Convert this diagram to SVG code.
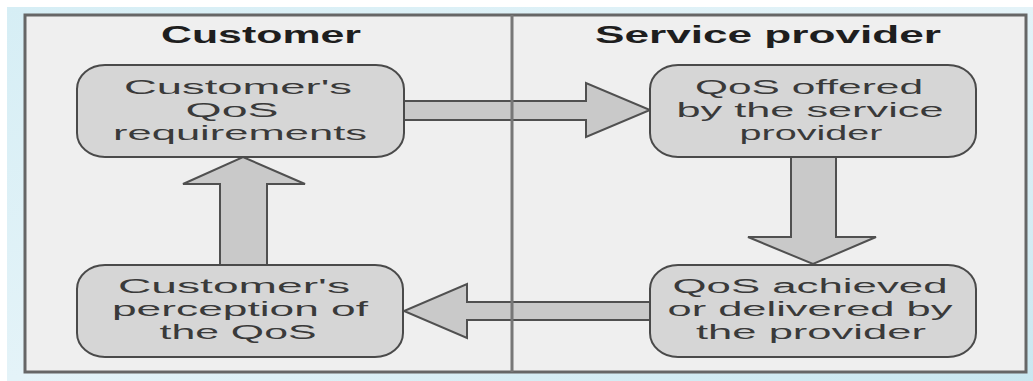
<svg xmlns="http://www.w3.org/2000/svg" width="1033" height="381" viewBox="0 0 1033 381">
  <defs>
    <linearGradient id="bgGrad" x1="0" y1="0" x2="1" y2="1">
      <stop offset="0" stop-color="#d6eef5"/>
      <stop offset="0.5" stop-color="#e4f3f8"/>
      <stop offset="1" stop-color="#c9e7f0"/>
    </linearGradient>
    <style>
      .frame { fill: #efefef; stroke: #666666; stroke-width: 3; }
      .divider { stroke: #777777; stroke-width: 3; }
      .lane { font-family: "Liberation Sans", Arial, sans-serif; font-weight: bold; font-size: 24px; fill: #1e1e1e; text-anchor: middle; }
      .box { fill: #d6d6d6; stroke: #4a4a4a; stroke-width: 2; }
      .label { font-family: "Liberation Sans", Arial, sans-serif; font-size: 20px; fill: #3a3a3a; text-anchor: middle; }
      .arrow { fill: #c9c9c9; stroke: #505050; stroke-width: 2; stroke-linejoin: miter; }
    </style>
  </defs>

  <!-- page background -->
  <rect x="0" y="0" width="1033" height="381" fill="#ffffff"/>
  <rect x="7" y="7" width="1026" height="374" fill="url(#bgGrad)"/>

  <!-- swimlane frame -->
  <g id="frame">
    <rect class="frame" x="25" y="15" width="1001" height="357"/>
    <text class="lane" x="261" y="43" textLength="200" lengthAdjust="spacingAndGlyphs">Customer</text>
    <text class="lane" x="768" y="43" textLength="346" lengthAdjust="spacingAndGlyphs">Service provider</text>
  </g>

  <!-- block arrows between the stages -->
  <g id="connectors">
    <polygon class="arrow" points="404,101 586,101 586,83 650,110 586,137 586,120 404,120"/>
    <polygon class="arrow" points="791,157 836,157 836,237 876,237 813,264 748,237 791,237"/>
    <polygon class="arrow" points="650,302 467,302 467,284 404,311 467,338 467,320 650,320"/>
    <polygon class="arrow" points="220,265 220,184 183,184 243,157 305,184 267,184 267,265"/>
  </g>

  <!-- lane divider -->
  <line class="divider" x1="512" y1="15" x2="512" y2="372"/>

  <g id="customer-requirements">
    <rect class="box" x="77" y="65" width="327" height="92" rx="28" ry="24"/>
    <text class="label" x="238" y="94" textLength="228" lengthAdjust="spacingAndGlyphs">Customer's</text>
    <text class="label" x="232" y="117" textLength="93" lengthAdjust="spacingAndGlyphs">QoS</text>
    <text class="label" x="240" y="140" textLength="254" lengthAdjust="spacingAndGlyphs">requirements</text>
  </g>

  <g id="qos-offered">
    <rect class="box" x="650" y="65" width="326" height="92" rx="28" ry="24"/>
    <text class="label" x="809" y="94" textLength="228" lengthAdjust="spacingAndGlyphs">QoS offered</text>
    <text class="label" x="810" y="117" textLength="267" lengthAdjust="spacingAndGlyphs">by the service</text>
    <text class="label" x="811" y="140" textLength="143" lengthAdjust="spacingAndGlyphs">provider</text>
  </g>

  <g id="customer-perception">
    <rect class="box" x="77" y="265" width="326" height="92" rx="28" ry="24"/>
    <text class="label" x="234" y="293" textLength="232" lengthAdjust="spacingAndGlyphs">Customer's</text>
    <text class="label" x="240" y="316" textLength="256" lengthAdjust="spacingAndGlyphs">perception of</text>
    <text class="label" x="238" y="339" textLength="157" lengthAdjust="spacingAndGlyphs">the QoS</text>
  </g>

  <g id="qos-achieved">
    <rect class="box" x="650" y="265" width="326" height="92" rx="28" ry="24"/>
    <text class="label" x="810" y="293" textLength="275" lengthAdjust="spacingAndGlyphs">QoS achieved</text>
    <text class="label" x="810" y="316" textLength="285" lengthAdjust="spacingAndGlyphs">or delivered by</text>
    <text class="label" x="811" y="339" textLength="230" lengthAdjust="spacingAndGlyphs">the provider</text>
  </g>
</svg>
